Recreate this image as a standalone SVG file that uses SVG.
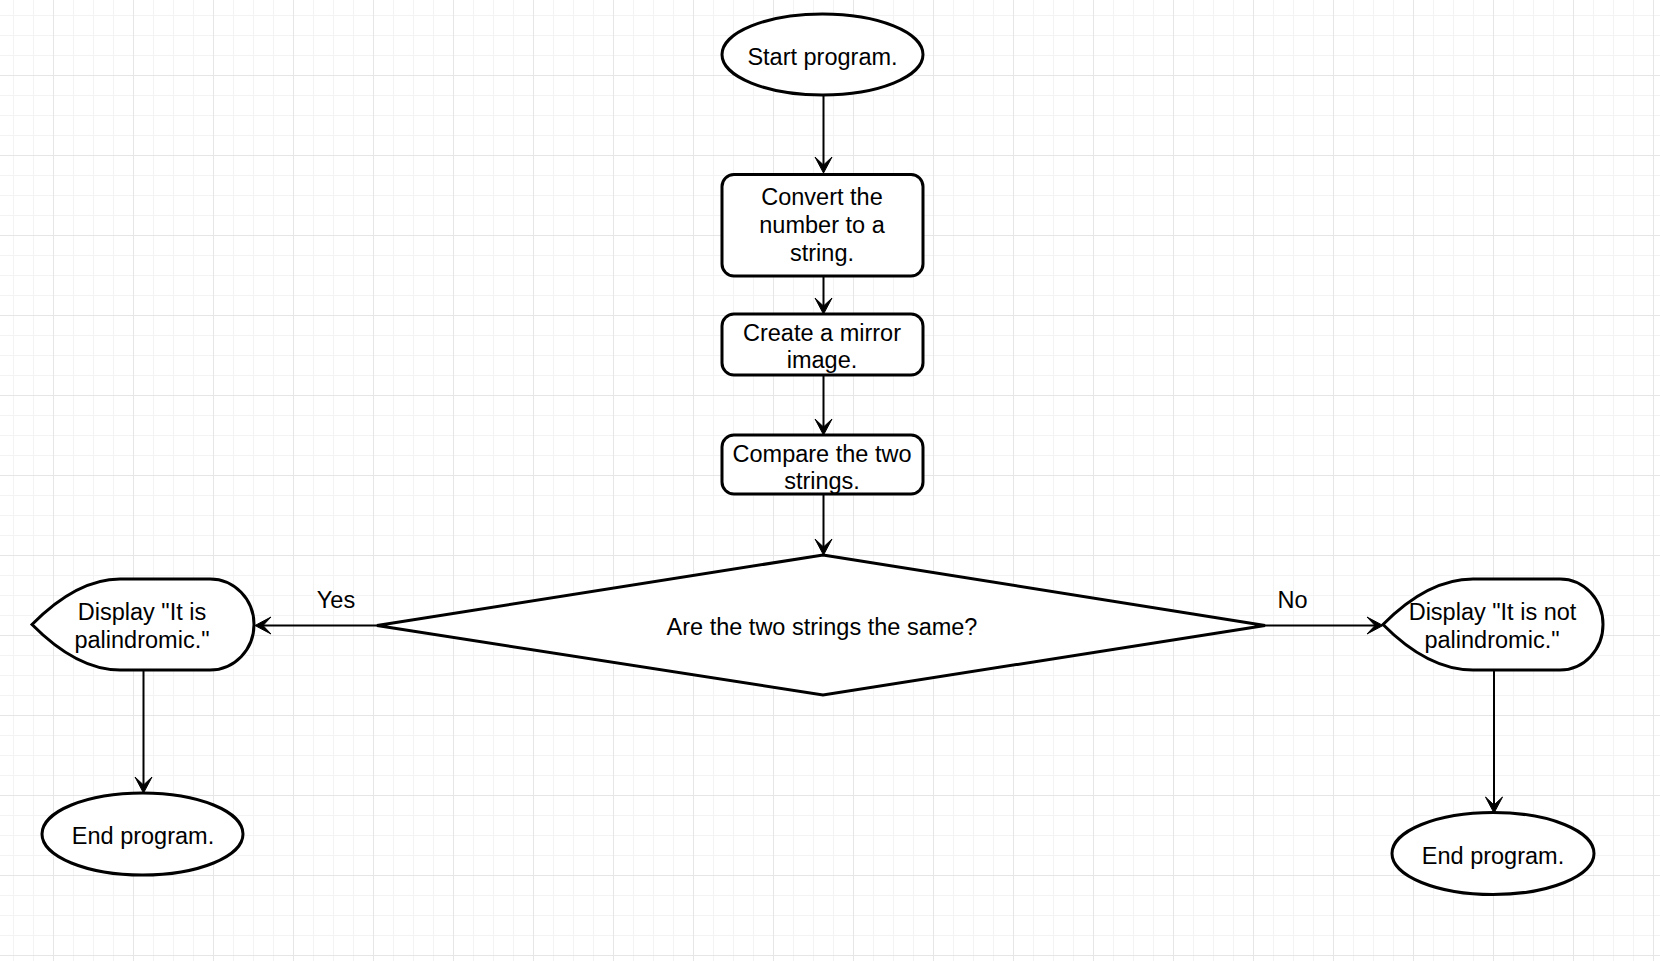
<svg xmlns="http://www.w3.org/2000/svg" width="1660" height="961" viewBox="0 0 1660 961">
<style>
.node{fill:#ffffff;stroke:#000000;stroke-width:3}
.edge{fill:none;stroke:#000000;stroke-width:2}
text{font-family:"Liberation Sans",Arial,Helvetica,sans-serif;font-size:23.5px;fill:#000000;text-anchor:middle}
</style>
<defs>
<pattern id="grid" x="53" y="75" width="80" height="80" patternUnits="userSpaceOnUse">
<path d="M20.5,0V80M40.5,0V80M60.5,0V80M0,20.5H80M0,40.5H80M0,60.5H80" stroke="#f3f3f3" stroke-width="1" fill="none"/>
<path d="M0.5,0V80M0,0.5H80" stroke="#e6e6e6" stroke-width="1" fill="none"/>
</pattern>
<marker id="arrow" markerUnits="userSpaceOnUse" viewBox="-17 -10 18 20" markerWidth="18" markerHeight="20" refX="-8" refY="0" orient="auto">
<path d="M0,0 L-16,-8.5 L-8,0 L-16,8.5 Z" fill="#000000" stroke="#000000" stroke-width="1"/>
</marker>
</defs>
<rect width="1660" height="961" fill="#ffffff"/>
<rect width="1660" height="961" fill="url(#grid)"/>
<g id="connectors">
<path class="edge" d="M823.5,95 V165" marker-end="url(#arrow)"/>
<path class="edge" d="M823.5,276 V306" marker-end="url(#arrow)"/>
<path class="edge" d="M823.5,375 V427" marker-end="url(#arrow)"/>
<path class="edge" d="M823.5,494 V547" marker-end="url(#arrow)"/>
<path class="edge" d="M377,625.5 H263" marker-end="url(#arrow)"/>
<path class="edge" d="M1265,625.5 H1375" marker-end="url(#arrow)"/>
<path class="edge" d="M143.5,670 V785" marker-end="url(#arrow)"/>
<path class="edge" d="M1494,670 V805" marker-end="url(#arrow)"/>
<text x="336" y="608">Yes</text>
<text x="1292.5" y="608">No</text>
</g>
<g id="start">
<ellipse class="node" cx="822.5" cy="54.5" rx="100.5" ry="40.5"/>
<text x="822.5" y="65">Start program.</text>
</g>
<g id="convert">
<rect class="node" x="722" y="174.5" width="201" height="101.5" rx="12" ry="12"/>
<text x="822" y="205">Convert the</text>
<text x="822" y="233">number to a</text>
<text x="822" y="260.5">string.</text>
</g>
<g id="mirror">
<rect class="node" x="722" y="314" width="201" height="61" rx="12" ry="12"/>
<text x="822" y="340.5">Create a mirror</text>
<text x="822" y="368">image.</text>
</g>
<g id="compare">
<rect class="node" x="722" y="435" width="201" height="59" rx="12" ry="12"/>
<text x="822" y="461.5">Compare the two</text>
<text x="822" y="489">strings.</text>
</g>
<g id="decision">
<path class="node" d="M823,555 L1265,625.5 L823,695 L377,625.5 Z"/>
<text x="822" y="635">Are the two strings the same?</text>
</g>
<g id="display-yes">
<path class="node" d="M32,624.5 Q77,579 120,579 L210,579 A44,45.5 0 0 1 254,624.5 A44,45.5 0 0 1 210,670 L120,670 Q77,670 32,624.5 Z"/>
<text x="142" y="620">Display "It is</text>
<text x="142" y="648">palindromic."</text>
</g>
<g id="display-no">
<path class="node" d="M1383,624.5 Q1428,579 1473,579 L1560,579 A43,45.5 0 0 1 1603,624.5 A43,45.5 0 0 1 1560,670 L1473,670 Q1428,670 1383,624.5 Z"/>
<text x="1492.5" y="620">Display "It is not</text>
<text x="1492" y="648">palindromic."</text>
</g>
<g id="end-yes">
<ellipse class="node" cx="142.5" cy="834" rx="100.5" ry="41"/>
<text x="143" y="844">End program.</text>
</g>
<g id="end-no">
<ellipse class="node" cx="1493" cy="853.5" rx="101" ry="41"/>
<text x="1493" y="864">End program.</text>
</g>
</svg>
